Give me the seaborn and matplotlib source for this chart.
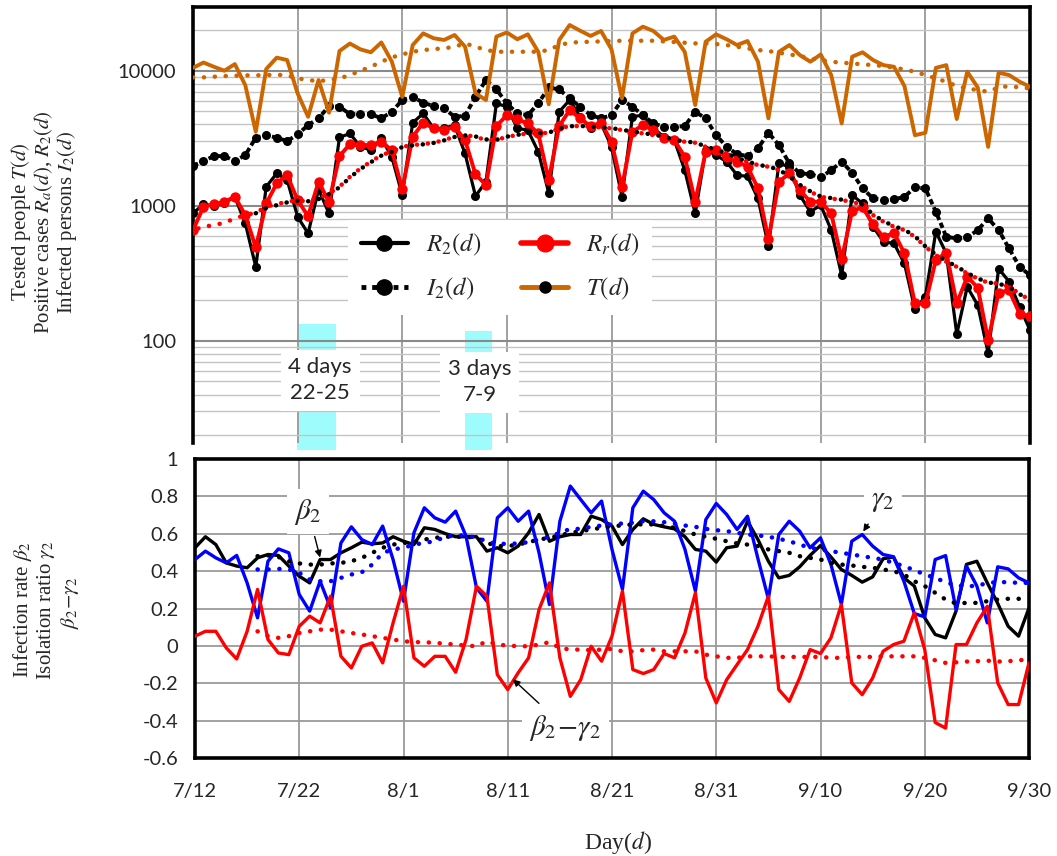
import numpy as np
import matplotlib
matplotlib.use("Agg")
import matplotlib.pyplot as plt
import seaborn as sns
from matplotlib.lines import Line2D
from matplotlib.ticker import FixedLocator, FixedFormatter, LogLocator, NullFormatter

sns.set_style("white")
plt.rcParams["font.family"] = ["Lato", "DejaVu Sans"]
plt.rcParams["mathtext.fontset"] = "stix"

# ---------------- data ----------------
days = np.arange(81)                      # 7/12 ... 9/30
tick_days = [0, 10, 20, 30, 40, 50, 60, 70, 80]
tick_labels = ["7/12", "7/22", "8/1", "8/11", "8/21", "8/31", "9/10", "9/20", "9/30"]

T = [10500, 11500, 10700, 10000, 11200, 7800, 3530, 10300, 12500, 12000,
     6800, 4560, 8530, 4890, 14000, 15900, 14400, 13700, 16200, 11700,
     6400, 15500, 18900, 17400, 16900, 18400, 15100, 6800, 6070, 17900,
     19200, 17100, 18600, 13800, 5640, 16900, 21800, 19800, 18100, 19700,
     14400, 6240, 18900, 21200, 19700, 16900, 17900, 13800, 5570, 16400,
     18600, 17100, 15500, 16600, 11660, 4440, 13800, 15500, 13060, 11660,
     13200, 9290, 4070, 12700, 13700, 12000, 11000, 10700, 7700, 3330,
     3470, 10500, 11000, 4390, 9840, 7530, 2730, 9670, 9290, 8300, 7600]

T_avg = [8930, 8930, 9030, 9130, 9180, 9240, 9240, 9290, 9340, 9240,
         8780, 8530, 8380, 8530, 8780, 9290, 10000, 10710, 11660, 12550,
         13210, 13830, 14230, 14470, 14640, 15060, 15940, 15060, 14230, 13830,
         13830, 13830, 13830, 13830, 14230, 15490, 16120, 16310, 16400, 16490,
         16590, 16680, 16680, 16680, 16680, 16490, 16310, 16120, 15940, 15940,
         15760, 15490, 15060, 14640, 14230, 13990, 13600, 13210, 12840, 12340,
         12000, 11660, 11470, 11330, 11140, 11020, 10830, 10530, 10230, 9830,
         9290, 8780, 8290, 7700, 7400, 7190, 6990, 7520, 7700, 7520, 7400]

I2 = [1979, 2142, 2333, 2333, 2142, 2373, 3189, 3338, 3189, 3013,
      3376, 3958, 4436, 5473, 5412, 4775, 4748, 4775, 4436, 4970,
      6060, 6420, 5794, 5473, 5260, 4564, 4630, 6420, 8530, 7270,
      5730, 4830, 4690, 5730, 7520, 7270, 6240, 5412, 4690, 4436,
      4690, 6060, 5412, 4690, 4072, 3847, 3847, 3890, 4970, 4436,
      3338, 2735, 2414, 2333, 2659, 3474, 2815, 2059, 1736, 1716,
      1621, 1838, 2118, 1756, 1344, 1133, 1101, 1114, 1166, 1367,
      1344, 903, 589, 573, 583, 660, 806, 660, 483, 353, 306]

R2 = [877, 1029, 990, 1050, 1166, 740, 353, 1383, 1737, 1550,
      829, 624, 1321, 877, 3210, 3430, 2735, 2585, 3150, 2306,
      1199, 4119, 4830, 3740, 3740, 3958, 2440, 1180, 1506, 5730,
      5412, 3740, 3637, 2512, 1248, 4970, 6060, 4564, 3740, 4072,
      2735, 1166, 4564, 4690, 3740, 3245, 3067, 1838, 877, 2585,
      2373, 2118, 1687, 1650, 1133, 503, 2059, 1945, 1199, 903,
      1011, 660, 306, 1199, 1040, 699, 541, 526, 374, 171,
      212, 642, 444, 112, 251, 184, 81, 343, 274, 179, 120]

Rr = [660, 983, 1029, 1070, 1166, 853, 491, 1040, 1463, 1687,
      1101, 838, 1506, 1070, 2333, 2862, 2815, 2815, 2980, 2585,
      1321, 3245, 4119, 3740, 3637, 3847, 3067, 1710, 1423, 3890,
      4690, 4366, 4072, 3430, 1549, 3890, 5110, 4436, 3890, 4119,
      2980, 1367, 3532, 3958, 3637, 3150, 3067, 2306, 1070, 2512,
      2585, 2281, 2118, 1950, 1344, 563, 1506, 1736, 1306, 1071,
      1071, 877, 400, 918, 972, 732, 583, 631, 444, 189,
      189, 396, 449, 189, 298, 248, 101, 227, 237, 159, 152]

Rr_avg = [660, 699, 719, 748, 806, 853, 888, 983, 1029, 1071,
          1101, 1071, 1133, 1234, 1383, 1640, 1890, 2118, 2373, 2512,
          2735, 2815, 2862, 2929, 3064, 3245, 3338, 3245, 3064, 3064,
          3245, 3338, 3434, 3434, 3474, 3739, 3892, 3892, 3847, 3803,
          3739, 3635, 3532, 3434, 3338, 3245, 3064, 2980, 2929, 2735,
          2585, 2442, 2242, 2118, 2001, 1945, 1838, 1640, 1423, 1270,
          1166, 1133, 1101, 1071, 1011, 853, 761, 699, 660, 589,
          497, 431, 385, 353, 315, 289, 269, 266, 251, 224, 200]

avg_days = np.arange(6, 81)               # moving averages start on day 6
R2_avg = [880, 960, 1010, 1060, 1090, 1080, 1120, 1220, 1370, 1620,
          1870, 2100, 2350, 2500, 2720, 2800, 2850, 2920, 3050, 3230,
          3320, 3260, 3100, 3080, 3250, 3350, 3440, 3450, 3480, 3720,
          3880, 3900, 3860, 3820, 3760, 3650, 3550, 3450, 3360, 3260,
          3080, 2990, 2940, 2750, 2600, 2450, 2260, 2130, 2010, 1950,
          1850, 1650, 1430, 1280, 1170, 1140, 1110, 1080, 1020, 860,
          770, 705, 665, 595, 500, 435, 390, 355, 318, 290,
          270, 265, 250, 222, 198]

beta = [0.525, 0.584, 0.542, 0.444, 0.427, 0.418, 0.471, 0.489, 0.484, 0.427,
        0.373, 0.337, 0.462, 0.462, 0.498, 0.525, 0.555, 0.546, 0.551, 0.584,
        0.560, 0.542, 0.632, 0.623, 0.601, 0.584, 0.584, 0.584, 0.507, 0.525,
        0.498, 0.534, 0.605, 0.703, 0.560, 0.584, 0.596, 0.596, 0.694, 0.676,
        0.641, 0.542, 0.623, 0.680, 0.650, 0.637, 0.626, 0.584, 0.516, 0.507,
        0.448, 0.525, 0.534, 0.667, 0.569, 0.453, 0.364, 0.377, 0.423, 0.484,
        0.537, 0.476, 0.409, 0.377, 0.341, 0.369, 0.466, 0.476, 0.364, 0.320,
        0.150, 0.061, 0.043, 0.186, 0.436, 0.453, 0.337, 0.227, 0.105, 0.052, 0.203]

gamma = [0.462, 0.507, 0.471, 0.444, 0.484, 0.337, 0.150, 0.453, 0.519, 0.498,
         0.275, 0.186, 0.346, 0.203, 0.551, 0.637, 0.569, 0.542, 0.641, 0.462,
         0.239, 0.605, 0.739, 0.685, 0.662, 0.721, 0.587, 0.311, 0.239, 0.685,
         0.739, 0.667, 0.721, 0.498, 0.221, 0.667, 0.855, 0.783, 0.712, 0.775,
         0.516, 0.302, 0.739, 0.828, 0.783, 0.712, 0.667, 0.516, 0.293, 0.676,
         0.762, 0.703, 0.623, 0.694, 0.466, 0.252, 0.596, 0.667, 0.614, 0.525,
         0.578, 0.436, 0.223, 0.560, 0.596, 0.534, 0.489, 0.477, 0.346, 0.173,
         0.155, 0.462, 0.483, 0.194, 0.427, 0.320, 0.123, 0.423, 0.412, 0.364, 0.337]

diff = [0.052, 0.078, 0.078, -0.011, -0.070, 0.078, 0.302, 0.034, -0.038, -0.047,
        0.105, 0.159, 0.123, 0.266, -0.056, -0.118, -0.002, 0.016, -0.091, 0.123,
        0.319, -0.064, -0.109, -0.056, -0.056, -0.141, 0.034, 0.319, 0.266, -0.154,
        -0.234, -0.144, -0.064, 0.194, 0.337, -0.064, -0.270, -0.181, -0.002, -0.082,
        0.052, 0.293, -0.127, -0.148, -0.127, -0.041, -0.064, 0.069, 0.284, -0.172,
        -0.305, -0.181, -0.100, -0.020, 0.105, 0.266, -0.234, -0.297, -0.172, -0.020,
        -0.041, 0.043, 0.221, -0.198, -0.261, -0.172, -0.029, 0.007, 0.025, 0.177,
        -0.020, -0.410, -0.440, 0.007, 0.007, 0.123, 0.212, -0.198, -0.314, -0.314, -0.091]

beta_avg = [0.480, 0.484, 0.476, 0.453, 0.441, 0.435, 0.435, 0.441, 0.444, 0.453,
            0.471, 0.498, 0.525, 0.542, 0.551, 0.555, 0.569, 0.578, 0.584, 0.584,
            0.584, 0.578, 0.551, 0.534, 0.534, 0.542, 0.555, 0.569, 0.578, 0.591,
            0.605, 0.614, 0.623, 0.632, 0.641, 0.644, 0.650, 0.650, 0.650, 0.641,
            0.632, 0.614, 0.596, 0.584, 0.573, 0.560, 0.548, 0.542, 0.534, 0.516,
            0.507, 0.498, 0.480, 0.471, 0.462, 0.444, 0.435, 0.430, 0.423, 0.418,
            0.409, 0.400, 0.382, 0.346, 0.320, 0.284, 0.248, 0.227, 0.230, 0.230,
            0.239, 0.248, 0.252, 0.252, 0.252]

gamma_avg = [0.409, 0.409, 0.412, 0.409, 0.391, 0.355, 0.346, 0.346, 0.364, 0.382,
             0.394, 0.435, 0.498, 0.516, 0.525, 0.542, 0.551, 0.560, 0.584, 0.591,
             0.591, 0.578, 0.560, 0.546, 0.546, 0.548, 0.555, 0.569, 0.584, 0.605,
             0.626, 0.626, 0.637, 0.644, 0.650, 0.655, 0.659, 0.667, 0.667, 0.662,
             0.655, 0.644, 0.637, 0.626, 0.619, 0.614, 0.605, 0.596, 0.591, 0.584,
             0.573, 0.560, 0.542, 0.525, 0.516, 0.507, 0.498, 0.489, 0.480, 0.471,
             0.462, 0.444, 0.427, 0.405, 0.382, 0.364, 0.341, 0.323, 0.320, 0.320,
             0.337, 0.341, 0.341, 0.337, 0.337]

diff_avg = [0.078, 0.052, 0.043, 0.052, 0.069, 0.078, 0.087, 0.087, 0.078, 0.069,
            0.061, 0.052, 0.043, 0.034, 0.025, 0.020, 0.020, 0.016, 0.012, 0.007,
            0.002, -0.002, 0.025, 0.007, 0.002, -0.002, -0.002, 0.007, 0.020, -0.011,
            -0.020, -0.020, -0.023, -0.020, -0.016, -0.029, -0.029, -0.023, -0.020, -0.029,
            -0.029, -0.029, -0.029, -0.047, -0.056, -0.064, -0.064, -0.056, -0.056, -0.056,
            -0.059, -0.059, -0.059, -0.059, -0.059, -0.064, -0.064, -0.059, -0.059, -0.059,
            -0.056, -0.056, -0.056, -0.056, -0.064, -0.077, -0.091, -0.088, -0.084, -0.082,
            -0.079, -0.084, -0.082, -0.077, -0.073]

bottom_ticks = [-0.6, -0.4, -0.2, 0, 0.2, 0.4, 0.6, 0.8, 1.0]
bottom_tick_labels = ["-0.6", "-0.4", "-0.2", "0", "0.2", "0.4", "0.6", "0.8", "1"]

# ---------------- style ----------------
ORANGE = "#CC6600"
SERIF = "Liberation Serif"
DOT = (0, (0.05, 2.4))

W, H = 1057, 856
fig = plt.figure(figsize=(W / 100, H / 100), dpi=100)


def px_axes(l, t, r, b):
    return fig.add_axes([l / W, 1 - b / H, (r - l) / W, (b - t) / H])


ax1 = px_axes(193, 7, 1030, 443)
ax2 = px_axes(195, 459, 1029, 758)


def draw(ax, x, y, **kw):
    sns.lineplot(x=x, y=y, ax=ax, legend=False, **kw)


# ---------------- top panel ----------------
draw(ax1, days, R2, color="black", lw=2.3, marker="o", markersize=6.5,
     markeredgewidth=0, zorder=3)
draw(ax1, days, I2, color="black", lw=2.8, linestyle=(0, (1.4, 0.8)), marker="o",
     markersize=6.5, markeredgewidth=0, zorder=3)
draw(ax1, days, Rr, color="red", lw=2.8, marker="o", markersize=7.5,
     markeredgewidth=0, zorder=4)
draw(ax1, days, T, color=ORANGE, lw=2.8, zorder=4)
draw(ax1, avg_days, R2_avg, color="black", lw=3.2, linestyle=DOT,
     dash_capstyle="round", zorder=5)
draw(ax1, days, Rr_avg, color="red", lw=3.2, linestyle=(1.2, (0.05, 2.4)),
     dash_capstyle="round", zorder=5)
draw(ax1, days, T_avg, color=ORANGE, lw=3.2, linestyle=DOT,
     dash_capstyle="round", zorder=5)

ax1.set_yscale("log")
ax1.set_xlim(0, 80)
ax1.set_ylim(17.5, 29650)
ax1.set(xlabel="", ylabel="")
ax1.xaxis.set_major_locator(FixedLocator(tick_days))
ax1.yaxis.set_major_locator(FixedLocator([100, 1000, 10000]))
ax1.yaxis.set_major_formatter(FixedFormatter(["100", "1000", "10000"]))
ax1.yaxis.set_minor_locator(LogLocator(base=10, subs=np.arange(2, 10), numticks=20))
ax1.yaxis.set_minor_formatter(NullFormatter())
ax1.set_axisbelow(True)
ax1.grid(which="major", axis="x", color="#9a9a9a", lw=1.3)
ax1.grid(which="major", axis="y", color="#8a8a8a", lw=1.5)
ax1.grid(which="minor", axis="y", color="#c4c4c4", lw=1.0)
ax1.tick_params(axis="both", which="both", length=0)
ax1.tick_params(axis="x", labelbottom=False)
ax1.tick_params(axis="y", labelsize=14.5, pad=12)
for s in ["top", "left", "right"]:
    ax1.spines[s].set_linewidth(2.6)
    ax1.spines[s].set_color("black")
ax1.spines["bottom"].set_visible(False)

# shaded holiday spans and their labels
ax1.axvspan(9.9, 13.7, ymin=-0.016, ymax=0.273, color="#9ffcfc", lw=0,
            zorder=0.2, clip_on=False)
ax1.axvspan(26.0, 28.6, ymin=-0.016, ymax=0.257, color="#9ffcfc", lw=0,
            zorder=0.2, clip_on=False)
box = dict(boxstyle="square,pad=0.35", facecolor="white", edgecolor="none")
ax1.text(12.15, 51, "4 days\n22-25", ha="center", va="center", fontsize=16,
         linespacing=1.35, bbox=box, zorder=6)
ax1.text(27.4, 49.4, "3 days\n7-9", ha="center", va="center", fontsize=16,
         linespacing=1.35, bbox=box, zorder=6)

handles = [
    Line2D([], [], color="black", lw=3, marker="o", ms=11),
    Line2D([], [], color="black", lw=3.5, ls=(0, (1, 1.2)), marker="o", ms=11),
    Line2D([], [], color="red", lw=4, marker="o", ms=12),
    Line2D([], [], color=ORANGE, lw=3.5, marker="o", ms=8, mfc="black", mec="black"),
]
labels = ["$R_2(d)$", "$I_2(d)$", "$R_r(d)$", "$T(d)$"]
leg = ax1.legend(handles, labels, ncol=2, loc="center",
                 bbox_to_anchor=(500 / W, 1 - 267 / H), bbox_transform=fig.transFigure,
                 frameon=True, fontsize=18, handlelength=1.9, handletextpad=0.7,
                 columnspacing=1.6, labelspacing=0.7, borderpad=0.5, fancybox=False)
leg.get_frame().set_facecolor("white")
leg.get_frame().set_edgecolor("none")
leg.get_frame().set_alpha(1)
leg.set_zorder(7)

# ---------------- bottom panel ----------------
draw(ax2, days, beta, color="black", lw=2.4, zorder=3)
draw(ax2, days, gamma, color="blue", lw=2.4, zorder=3)
draw(ax2, days, diff, color="red", lw=2.4, zorder=3)
draw(ax2, avg_days, beta_avg, color="black", lw=3.2, linestyle=DOT,
     dash_capstyle="round", zorder=4)
draw(ax2, avg_days, gamma_avg, color="blue", lw=3.2, linestyle=DOT,
     dash_capstyle="round", zorder=4)
draw(ax2, avg_days, diff_avg, color="red", lw=3.2, linestyle=DOT,
     dash_capstyle="round", zorder=4)

ax2.set_xlim(0, 80)
ax2.set_ylim(-0.6, 1.0)
ax2.set(xlabel="", ylabel="")
ax2.xaxis.set_major_locator(FixedLocator(tick_days))
ax2.xaxis.set_major_formatter(FixedFormatter(tick_labels))
ax2.yaxis.set_major_locator(FixedLocator(bottom_ticks))
ax2.yaxis.set_major_formatter(FixedFormatter(bottom_tick_labels))
ax2.set_axisbelow(True)
ax2.grid(which="major", color="#9a9a9a", lw=1.3)
ax2.tick_params(axis="both", length=0, labelsize=14.5)
ax2.tick_params(axis="y", pad=12)
ax2.tick_params(axis="x", pad=18)
for s in ax2.spines.values():
    s.set_linewidth(2.6)
    s.set_color("black")

abox = dict(boxstyle="square,pad=0.25", facecolor="white", edgecolor="none")
arrow = dict(arrowstyle="-|>", color="black", lw=1.0, mutation_scale=10,
             shrinkA=2, shrinkB=0)
ax2.annotate(r"$\beta_2$", xy=(12.0, 0.473), xytext=(10.86, 0.719), fontsize=21,
             ha="center", va="center", bbox=abox, arrowprops=arrow, zorder=6)
ax2.annotate(r"$\gamma_2$", xy=(64.1, 0.612), xytext=(66.0, 0.773), fontsize=21,
             ha="center", va="center", bbox=abox, arrowprops=arrow, zorder=6)
ax2.annotate(r"$\beta_2\!-\!\gamma_2$", xy=(30.5, -0.179), xytext=(35.5, -0.437),
             fontsize=21, ha="center", va="center", bbox=abox, arrowprops=arrow,
             zorder=6)

# ---------------- axis titles ----------------
ylab = dict(rotation=90, ha="center", va="center", fontsize=15, family=SERIF)
fig.text(21 / W, 1 - 222 / H, "Tested people $T(d)$", **ylab)
fig.text(44 / W, 1 - 222 / H, "Positive cases $R_a(d)$, $R_2(d)$", **ylab)
fig.text(67 / W, 1 - 222 / H, "Infected persons $I_2(d)$", **ylab)
fig.text(23 / W, 1 - 610 / H, r"Infection rate $\beta_2$", **ylab)
fig.text(46 / W, 1 - 610 / H, r"Isolation ratio $\gamma_2$", **ylab)
fig.text(70 / W, 1 - 603 / H, r"$\beta_2\!-\!\gamma_2$", **ylab)
fig.text(618 / W, 1 - 843 / H, "Day($d$)", ha="center", va="center",
         fontsize=17, family=SERIF)

fig.savefig("out.png", dpi=100)
